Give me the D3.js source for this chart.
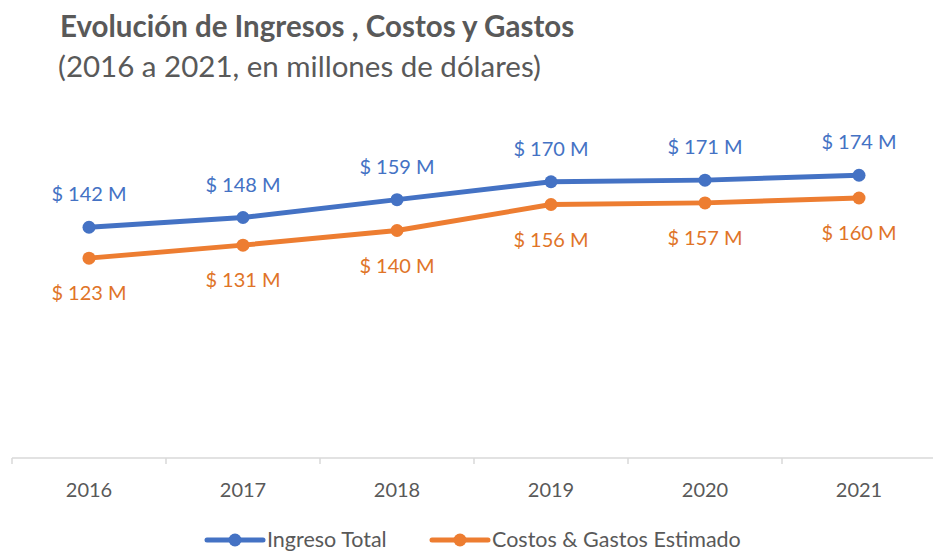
<html>
<head>
<meta charset="utf-8">
<title>Evolución de Ingresos, Costos y Gastos</title>
<style>
  body, html { margin: 0; padding: 0; background: #ffffff; }
  #chart { width: 933px; height: 552px; }
  text { font-family: Lato, 'Noto Sans', sans-serif; }
  .x_axis path { stroke: #d9d9d9; stroke-width: 1.5; }
  .x_axis line { stroke: #d9d9d9; stroke-width: 1.5; }
  .x_axis text { font-size: 20px; fill: #595959; }
</style>
<script src="https://d3js.org/d3.v7.min.js"></script>
</head>
<body>
<div id="chart"></div>
<script>
var years = ["2016", "2017", "2018", "2019", "2020", "2021"];
var ingreso = [142, 148, 159, 170, 171, 174];
var costos = [123, 131, 140, 156, 157, 160];
var series_names = ["Ingreso Total", "Costos & Gastos Estimado"];

var width = 933, height = 552;
var blue = "#4472c4", orange = "#ed7d31";

var svg = d3.select("#chart")
            .append("svg")
            .attr("width", width)
            .attr("height", height);

// plot area, as excel lays it out
var scale_x = d3.scaleBand().domain(years).range([12, 936]);
var scale_y = d3.scaleLinear().domain([0, 200]).range([458, 133]);

var x_axis = d3.axisBottom(scale_x).tickSize(0).tickPadding(25);

var gx = svg.append("g")
   .attr("class", "x_axis")
   .attr("transform", "translate(0,458)")
   .call(x_axis);
gx.select(".domain").attr("d", "M12,0H933");

// boundary ticks between categories
gx.selectAll(".bound")
  .data(years)
  .enter()
  .append("line")
  .attr("class", "bound")
  .attr("x1", function(d) { return scale_x(d); })
  .attr("x2", function(d) { return scale_x(d); })
  .attr("y1", 0)
  .attr("y2", 6);

function cx(d, i) { return scale_x(years[i]) + scale_x.bandwidth() / 2; }

var fmt = function(v) { return "$ " + v + " M"; };

function draw_series(values, color, label_color, dy) {
  var line = d3.line()
               .x(function(d, i) { return cx(d, i); })
               .y(function(d) { return scale_y(d); });

  svg.append("path")
     .datum(values)
     .attr("d", line)
     .attr("fill", "none")
     .attr("stroke", color)
     .attr("stroke-width", 5)
     .attr("stroke-linejoin", "round");

  svg.selectAll(null)
     .data(values)
     .enter()
     .append("circle")
     .attr("cx", cx)
     .attr("cy", function(d) { return scale_y(d); })
     .attr("r", 6.5)
     .attr("fill", color);

  svg.selectAll(null)
     .data(values)
     .enter()
     .append("text")
     .attr("x", cx)
     .attr("y", function(d) { return scale_y(d) + dy; })
     .attr("text-anchor", "middle")
     .attr("font-size", "20px")
     .attr("fill", label_color)
     .text(fmt);
}

draw_series(ingreso, blue, "#4472c4", -26);
draw_series(costos, orange, "#e07428", 42);

// titles
svg.append("text")
   .attr("x", 60).attr("y", 37)
   .attr("font-size", "29.5px")
   .attr("font-weight", "bold")
   .attr("fill", "#595959")
   .text("Evolución de Ingresos , Costos y Gastos");

svg.append("text")
   .attr("x", 58).attr("y", 77)
   .attr("font-size", "29.5px")
   .attr("fill", "#595959")
   .text("(2016 a 2021, en millones de dólares)");

// legend
var legend = [
  { name: series_names[0], color: blue, x: 207 },
  { name: series_names[1], color: orange, x: 432 }
];

var lg = svg.selectAll(".legend")
            .data(legend)
            .enter()
            .append("g")
            .attr("class", "legend")
            .attr("transform", function(d) { return "translate(" + d.x + ",540)"; });

lg.append("line")
  .attr("x1", 0).attr("x2", 56)
  .attr("y1", 0).attr("y2", 0)
  .attr("stroke", function(d) { return d.color; })
  .attr("stroke-width", 5)
  .attr("stroke-linecap", "round");

lg.append("circle")
  .attr("cx", 28).attr("cy", 0).attr("r", 6.5)
  .attr("fill", function(d) { return d.color; });

lg.append("text")
  .attr("x", 60).attr("y", 7)
  .attr("font-size", "21.5px")
  .attr("fill", "#595959")
  .text(function(d) { return d.name; });
</script>
</body>
</html>
